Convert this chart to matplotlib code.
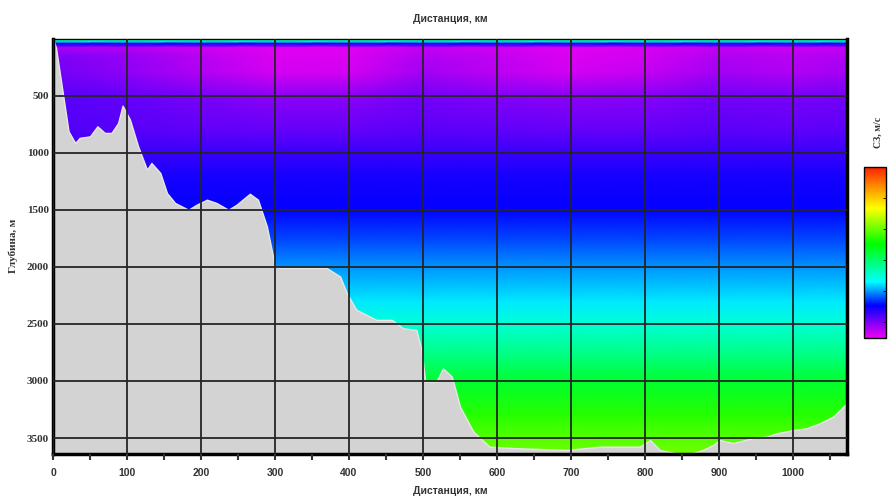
import matplotlib.pyplot as plt
import numpy as np
from matplotlib.colors import LinearSegmentedColormap, Normalize
from matplotlib.ticker import MultipleLocator

# sound speed profile (m/s)
depth_levels = [0, 25, 45, 80, 150, 300, 500, 800, 1000, 1200, 1500, 1800,
                2000, 2300, 2500, 2800, 3000, 3300, 3700]
speed_profile = [1500, 1489, 1471, 1454, 1456, 1457, 1461, 1463, 1466, 1469,
                 1471, 1476, 1480, 1485, 1490, 1499, 1506, 1514, 1522]
# near-surface horizontal variation along the section
stations_km = [0, 100, 200, 300, 400, 500, 600, 700, 800, 900, 1000, 1075]
speed_anomaly = [4, 2, -1, -4, -4, 0, -2, -4, -3, 0, -1, 0]
anomaly_weight = [0, 0, 0, 0.6, 1, 1, 0.6, 0.2, 0, 0, 0, 0, 0, 0, 0, 0, 0, 0, 0]

# bottom profile
bottom_km = [0, 4, 21, 30, 36, 50, 60, 70, 79, 88, 94, 104, 115, 127, 133, 145,
             154, 165, 183, 194, 208, 221, 237, 248, 266, 277, 289, 300, 307,
             370, 388, 397, 410, 437, 458, 473, 491, 498, 503, 518, 527, 539,
             550, 568, 590, 622, 694, 739, 793, 807, 820, 856, 878, 892, 901,
             919, 946, 964, 978, 1000, 1018, 1036, 1054, 1068, 1075]
bottom_depth = [0, 80, 813, 915, 870, 857, 769, 827, 827, 740, 588, 711, 945,
                1149, 1090, 1178, 1354, 1441, 1500, 1456, 1412, 1441, 1500,
                1456, 1360, 1412, 1646, 1997, 2011, 2011, 2085, 2231, 2377,
                2465, 2465, 2538, 2553, 2728, 3006, 3006, 2889, 2962, 3225,
                3444, 3576, 3588, 3605, 3576, 3576, 3518, 3605, 3650, 3605,
                3561, 3518, 3544, 3500, 3488, 3459, 3430, 3415, 3371, 3313,
                3225, 3180]

cmap = LinearSegmentedColormap.from_list('cs', [
    (0.0, '#f000f0'), (0.19, '#0000ff'), (0.33, '#00ffff'), (0.55, '#00ff00'),
    (0.76, '#ffff00'), (0.9, '#ff8000'), (1.0, '#ff2000')])
norm = Normalize(1450, 1560)

speed = np.array(speed_profile)[:, None] + \
    np.array(anomaly_weight)[:, None] * np.array(speed_anomaly)[None, :]

fig = plt.figure(figsize=(8.94, 4.99), dpi=100)
ax = fig.add_axes([0.0593, 0.0902, 0.8881, 0.8326])

ax.pcolormesh(stations_km, depth_levels, speed, cmap=cmap, norm=norm,
              shading='gouraud', zorder=1)
ax.fill_between(bottom_km, bottom_depth, 3700, color='#d3d3d3',
                edgecolor='#e6e6e6', linewidth=1, zorder=2)

ax.set_xlim(0, 1073)
ax.set_ylim(3640, 0)
ax.xaxis.set_major_locator(MultipleLocator(100))
ax.xaxis.set_minor_locator(MultipleLocator(50))
ax.set_xticks([0, 100, 200, 300, 400, 500, 600, 700, 800, 900, 1000])
ax.set_yticks([500, 1000, 1500, 2000, 2500, 3000, 3500])
ax.grid(True, color='#252525', linewidth=1.3, zorder=3)
ax.set_axisbelow(False)
ax.tick_params(axis='x', which='both', direction='out', length=4, width=1.5,
               color='#333333', pad=6)
ax.tick_params(axis='y', length=0, pad=3)
for lab in ax.get_xticklabels():
    lab.set_fontfamily('Liberation Sans')
    lab.set_fontweight('bold')
    lab.set_fontsize(7.5)
    lab.set_color('#333333')
for lab in ax.get_yticklabels():
    lab.set_fontfamily('Liberation Serif')
    lab.set_fontweight('bold')
    lab.set_fontsize(8)
    lab.set_color('#333333')

for side in ['left', 'bottom', 'right']:
    ax.spines[side].set_linewidth(2.5)
ax.spines['top'].set_linewidth(1)

ax.set_xlabel('Дистанция, км', fontsize=7.5, fontweight='bold',
              family='Liberation Sans', color='#333333', labelpad=6)
ax.set_title('Дистанция, км', fontsize=7.5, fontweight='bold',
             family='Liberation Sans', color='#333333', pad=12)
ax.set_ylabel('Глубина, м', fontsize=8, fontweight='bold',
              family='Liberation Serif', color='#333333', labelpad=6)

cax = fig.add_axes([0.9664, 0.3226, 0.0246, 0.3427])
cb = fig.colorbar(plt.cm.ScalarMappable(norm=norm, cmap=cmap), cax=cax)
cb.outline.set_linewidth(1)
cb.set_ticks([1460, 1480, 1500, 1520, 1540])
cb.ax.tick_params(direction='in', length=2, width=0.6, labelright=False)
fig.text(0.982, 0.735, 'СЗ, м/с', rotation=90, ha='center', va='center',
         fontsize=7, fontweight='bold', family='Liberation Serif',
         color='#333333')

fig.savefig('out.png', dpi=100)
